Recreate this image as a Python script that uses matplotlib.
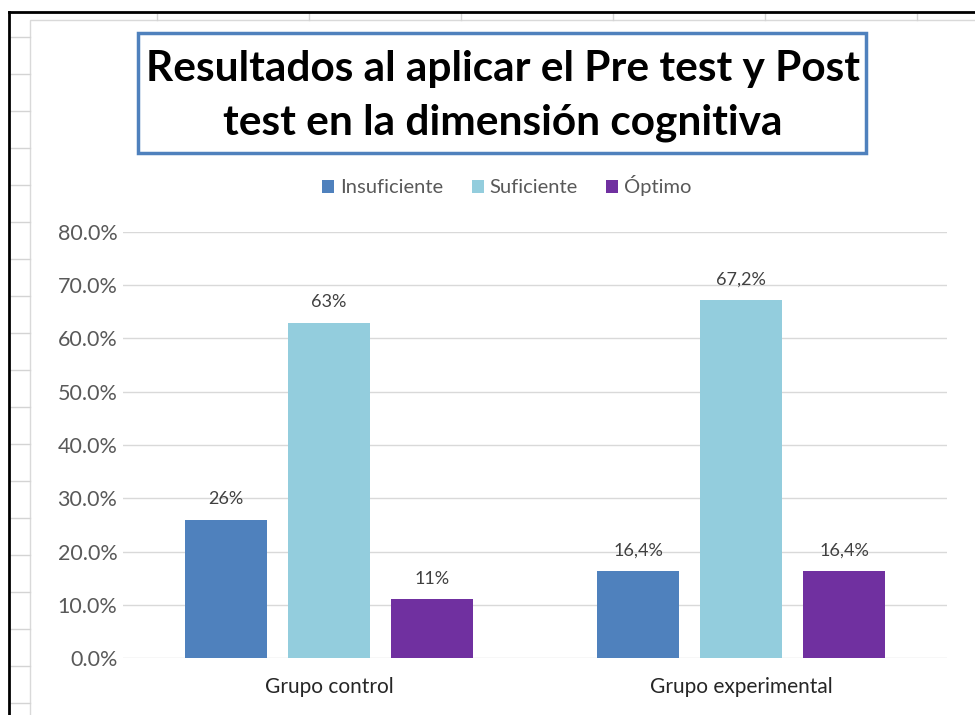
import matplotlib
matplotlib.use("Agg")
import matplotlib.pyplot as plt
from matplotlib.lines import Line2D
from matplotlib.patches import Rectangle
from matplotlib.ticker import FuncFormatter

groups = ["Grupo control", "Grupo experimental"]
series = ["Insuficiente", "Suficiente", "Óptimo"]
insuficiente = [0.26, 0.164]
suficiente = [0.63, 0.672]
optimo = [0.11, 0.164]
labels = {
    "Insuficiente": ["26%", "16,4%"],
    "Suficiente": ["63%", "67,2%"],
    "Óptimo": ["11%", "16,4%"],
}
colors = {"Insuficiente": "#4f81bd", "Suficiente": "#93cddd", "Óptimo": "#7030a0"}
title = "Resultados al aplicar el Pre test y Post\ntest en la dimensión cognitiva"

W, H = 975, 715
plt.rcParams["font.family"] = ["Lato", "DejaVu Sans"]
fig = plt.figure(figsize=(W / 100, H / 100), dpi=100)


def fx(px):
    return px / W


def fy(py):
    return 1 - py / H


# spreadsheet background: cell gridlines and the black outline
for y in range(37, H, 37):
    fig.add_artist(Line2D([fx(10), fx(30)], [fy(y), fy(y)], color="#d4d4d4", lw=1))
for x in [157, 309, 461, 613, 765, 917]:
    fig.add_artist(Line2D([fx(x), fx(x)], [fy(12), fy(20)], color="#d4d4d4", lw=1))
fig.add_artist(Line2D([fx(9), fx(9)], [fy(12), 0], color="black", lw=2))
fig.add_artist(Line2D([fx(9), 1], [fy(12), fy(12)], color="black", lw=2))
# chart area border
fig.add_artist(Rectangle((fx(30), -0.01), 1.0, fy(20) + 0.01, fill=False,
                         edgecolor="#d9d9d9", lw=1))

# title box
fig.add_artist(Rectangle((fx(138), fy(153)), fx(866 - 138), (153 - 33) / H,
                         fill=False, edgecolor="#4f81bd", lw=2.5))
fig.text(fx(503), fy(96), title, ha="center", va="center", fontsize=30.5,
         fontweight="bold", linespacing=1.5, color="black")

ax = fig.add_axes([fx(123), fy(658), fx(947 - 123), (658 - 232) / H])
width = 0.2
offsets = [-0.25, 0.0, 0.25]
values = {"Insuficiente": insuficiente, "Suficiente": suficiente, "Óptimo": optimo}
for name, off in zip(series, offsets):
    xs = [i + off for i in range(len(groups))]
    bars = ax.bar(xs, values[name], width, color=colors[name], label=name, zorder=3)
    for b, lab in zip(bars, labels[name]):
        ax.annotate(lab, (b.get_x() + b.get_width() / 2, b.get_height()),
                    xytext=(0, 9), textcoords="offset points", ha="center",
                    va="bottom", fontsize=13, color="#404040")

ax.set_xlim(-0.5, 1.5)
ax.set_ylim(0, 0.8)
ax.set_yticks([i / 10 for i in range(9)])
ax.yaxis.set_major_formatter(FuncFormatter(lambda v, _: f"{v * 100:.1f}%"))
ax.set_xticks(range(len(groups)))
ax.set_xticklabels(groups)
ax.tick_params(axis="both", length=0, colors="#404040")
ax.tick_params(axis="y", pad=4, labelsize=15.5, labelcolor="#595959")
ax.tick_params(axis="x", pad=14, labelsize=15, labelcolor="#262626")
ax.grid(axis="y", color="#d9d9d9", lw=1, zorder=0)
for s in ax.spines.values():
    s.set_visible(False)

ax.legend(loc="center", bbox_to_anchor=(fx(507 - 123) / fx(947 - 123), (658 - 186) / (658 - 232)),
          ncol=3, frameon=False, fontsize=14.5, handlelength=0.6, handleheight=0.6,
          handletextpad=0.3, columnspacing=1.4, labelcolor="#595959")

fig.savefig("out.png", dpi=100)
